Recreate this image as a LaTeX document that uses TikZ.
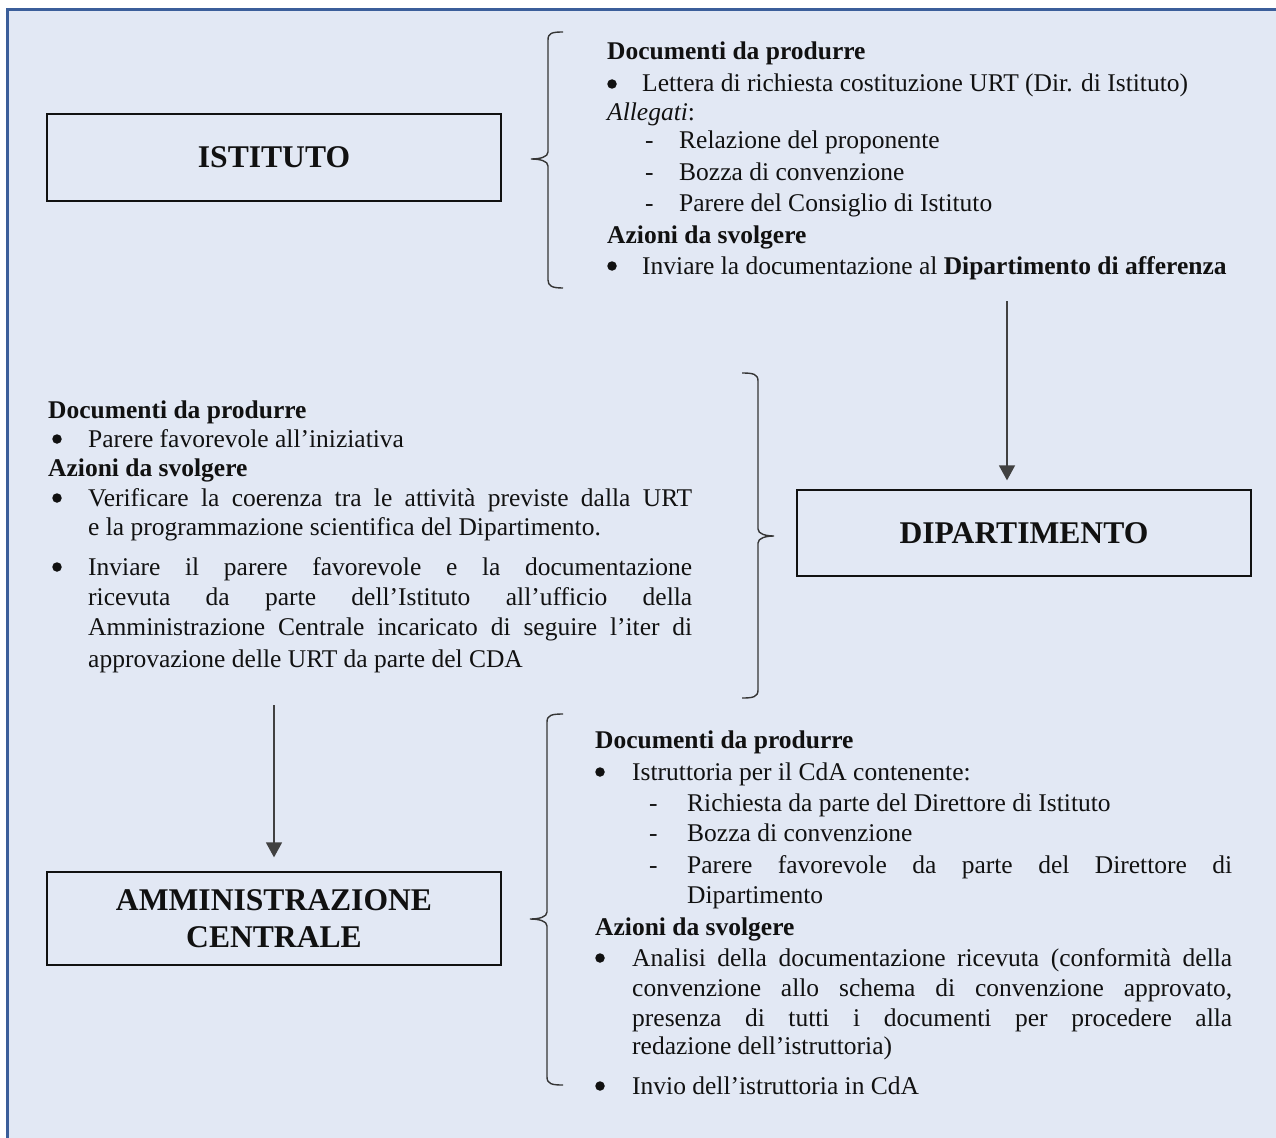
\documentclass[tikz,border=0pt]{standalone}
\usepackage{fontspec}
\setmainfont{Liberation Serif}
\usetikzlibrary{arrows.meta}
\definecolor{bgfill}{HTML}{E2E8F4}
\definecolor{frameblue}{HTML}{3B5E9A}
\definecolor{ink}{HTML}{111111}
\newcommand{\jline}[2]{\makebox[#1pt][s]{#2}}
\begin{document}
\begin{tikzpicture}[x=1pt,y=-1pt,
  txt/.style={anchor=base west,inner sep=0pt,text=ink,font=\fontsize{25.5}{30}\selectfont},
  bul/.style={circle,fill=ink,inner sep=0pt,minimum size=9.5pt},
  titlebox/.style={draw=ink,line width=1.3pt,minimum width=454pt,inner sep=0pt,align=center,text=ink,font=\fontsize{31.6}{37}\selectfont\bfseries},
  bracepath/.style={draw=ink!85,line width=1.4pt},
  arr/.style={draw=ink!80,line width=1.6pt,-{Triangle[length=15pt,width=16pt]}}]
\useasboundingbox (0,0) rectangle (1276,1137);
\begin{scope}
\clip (0,0) rectangle (1276,1137);
\fill[white] (0,0) rectangle (1276,1137);
\draw[frameblue,fill=bgfill,line width=3pt] (7.5,9.5) rectangle (1300,1160);
\end{scope}

% boxes
\node[titlebox,minimum height=87pt] (ist) at (274,157.5) {ISTITUTO};
\node[titlebox,minimum height=86pt] (dip) at (1024,533) {DIPARTIMENTO};
\node[titlebox,minimum height=93pt] (amm) at (274,918.5) {AMMINISTRAZIONE\\CENTRALE};

% braces
\draw[bracepath] (563,32) .. controls (552,32) and (548,33) .. (548,40) -- (548,152)
  .. controls (548,157) and (540,159) .. (531,159)
  .. controls (540,159) and (548,161) .. (548,166) -- (548,280)
  .. controls (548,286) and (552,288) .. (563,288);
\draw[bracepath] (742,373) .. controls (753,373) and (758,374) .. (758,381) -- (758,529)
  .. controls (758,534) and (766,536) .. (774,536)
  .. controls (766,536) and (758,538) .. (758,543) -- (758,690)
  .. controls (758,697) and (753,698) .. (742,698);
\draw[bracepath] (563,714) .. controls (552,714) and (547,715) .. (547,722) -- (547,912)
  .. controls (547,917) and (539,919) .. (530,919)
  .. controls (539,919) and (547,921) .. (547,926) -- (547,1077)
  .. controls (547,1084) and (552,1085) .. (563,1085);

% arrows
\coordinate (a1s) at (1007,301);
\coordinate (a2s) at (274,705);
\draw[arr,shorten >=9pt] (a1s) -- (a1s |- dip.north);
\draw[arr,shorten >=14pt] (a2s) -- (a2s |- amm.north);

% top block
\node[txt] (t1) at (607,60) {\textbf{Documenti da produrre}};
\node[bul] (t2b) at (612,84) {};
\node[txt] (t2) at (642,92) {Lettera di richiesta costituzione URT (Dir. di Istituto)};
\node[txt] (t3) at (607,121) {\textit{Allegati}:};
\node[txt] (t4d) at (645,149) {-};
\node[txt] (t4) at (679,149) {Relazione del proponente};
\node[txt] (t5d) at (645,180) {-};
\node[txt] (t5) at (679,180) {Bozza di convenzione};
\node[txt] (t6d) at (645,211) {-};
\node[txt] (t6) at (679,211) {Parere del Consiglio di Istituto};
\node[txt] (t7) at (607,243) {\textbf{Azioni da svolgere}};
\node[bul] (t8b) at (612,266) {};
\node[txt] (t8) at (642,274) {Inviare la documentazione al \textbf{Dipartimento di afferenza}};

% middle block
\node[txt] (m1) at (48,418) {\textbf{Documenti da produrre}};
\node[bul] (m2b) at (57,439) {};
\node[txt] (m2) at (88,447) {Parere favorevole all’iniziativa};
\node[txt] (m3) at (48,476) {\textbf{Azioni da svolgere}};
\node[bul] (m4b) at (57,498) {};
\node[txt] (m4) at (88,506) {\jline{604}{Verificare la coerenza tra le attività previste dalla URT}};
\node[txt] (m5) at (88,535) {e la programmazione scientifica del Dipartimento.};
\node[bul] (m6b) at (57,567) {};
\node[txt] (m6) at (88,575) {\jline{604}{Inviare il parere favorevole e la documentazione}};
\node[txt] (m7) at (88,605) {\jline{604}{ricevuta da parte dell’Istituto all’ufficio della}};
\node[txt] (m8) at (88,635) {\jline{604}{Amministrazione Centrale incaricato di seguire l’iter di}};
\node[txt] (m9) at (88,667) {approvazione delle URT da parte del CDA};

% bottom block
\node[txt] (b1) at (595,748) {\textbf{Documenti da produrre}};
\node[bul] (b2b) at (600,772) {};
\node[txt] (b2) at (632,780) {Istruttoria per il CdA contenente:};
\node[txt] (b3d) at (649,811) {-};
\node[txt] (b3) at (687,811) {Richiesta da parte del Direttore di Istituto};
\node[txt] (b4d) at (649,841) {-};
\node[txt] (b4) at (687,841) {Bozza di convenzione};
\node[txt] (b5d) at (649,873) {-};
\node[txt] (b5) at (687,873) {\jline{545}{Parere favorevole da parte del Direttore di}};
\node[txt] (b6) at (687,903) {Dipartimento};
\node[txt] (b7) at (595,935) {\textbf{Azioni da svolgere}};
\node[bul] (b8b) at (600,958) {};
\node[txt] (b8) at (632,966) {\jline{600}{Analisi della documentazione ricevuta (conformità della}};
\node[txt] (b9) at (632,996) {\jline{600}{convenzione allo schema di convenzione approvato,}};
\node[txt] (b10) at (632,1026) {\jline{600}{presenza di tutti i documenti per procedere alla}};
\node[txt] (b11) at (632,1054) {redazione dell’istruttoria)};
\node[bul] (b12b) at (600,1086) {};
\node[txt] (b12) at (632,1094) {Invio dell’istruttoria in CdA};
\end{tikzpicture}
\end{document}
